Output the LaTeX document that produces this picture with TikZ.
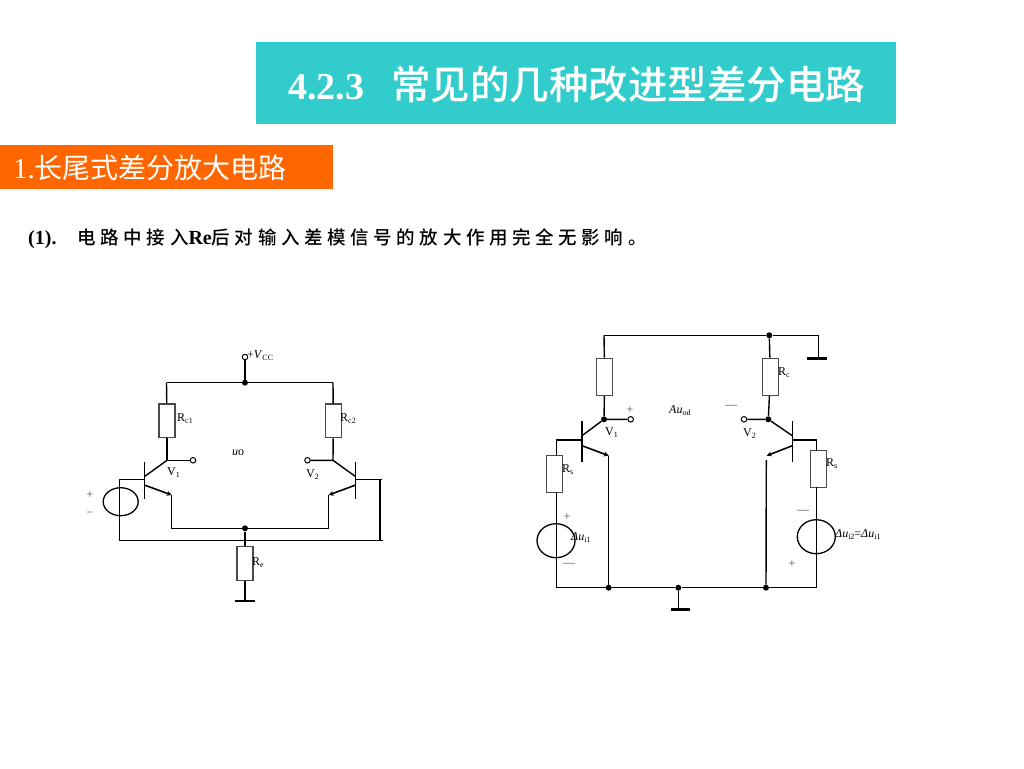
\documentclass[tikz,border=0pt]{standalone}
\usepackage{fontspec}
\usetikzlibrary{arrows.meta,shapes.geometric}
\setmainfont{Liberation Serif}
\newfontfamily\cjk{Noto Sans CJK SC}
\newfontfamily\cjkfat{Noto Sans CJK SC Medium}
\newfontfamily\cjksp[LetterSpace=25]{Noto Sans CJK SC Medium}
\definecolor{titlebg}{HTML}{33CCCC}
\definecolor{headbg}{HTML}{FF6600}
\definecolor{rimgray}{HTML}{4A4A4A}
\newcommand{\lowsub}[1]{\raisebox{-2pt}{\fontsize{8}{8}\selectfont #1}}
\tikzset{
  wire/.style={line width=1.4pt,black},
  bar/.style={line width=1.4pt,black},
  gnd/.style={line width=2.4pt,black},
  res/.style={draw=rimgray,line width=1.4pt,fill=white,inner sep=0pt,minimum width=16pt},
  src/.style={ellipse,draw=black,line width=1.3pt,inner sep=0pt},
  dot/.style={circle,fill=black,inner sep=0pt,minimum size=6pt},
  term/.style={circle,draw=black,line width=1pt,fill=white,inner sep=0pt,minimum size=5.5pt},
  lab/.style={anchor=west,inner sep=0pt,font=\fontsize{12}{12}\selectfont},
  sign/.style={inner sep=0pt,font=\fontsize{12}{12}\selectfont,text=rimgray},
  emit/.style={line width=1.6pt,black,-{Stealth[length=5pt,width=5pt]}}
}
\begin{document}
\begin{tikzpicture}[x=1pt,y=-1pt]
\useasboundingbox (0,0) rectangle (1024,768);
% banners
\fill[titlebg] (256,42) rectangle (896,124);
\fill[headbg] (0,145) rectangle (333,189);
\node[anchor=west,inner sep=0pt,text=white] (title) at (288,85)
  {\fontsize{38}{38}\selectfont\bfseries 4.2.3\hspace{27pt}\mdseries\cjkfat\fontsize{39.5}{40}\selectfont 常见的几种改进型差分电路};
\node[anchor=west,inner sep=0pt,text=white] (head) at (13,168)
  {\fontsize{29}{30}\selectfont 1.\cjk\fontsize{28}{30}\selectfont 长尾式差分放大电路};
\node[anchor=west,inner sep=0pt] (line) at (28,239)
  {\fontsize{20}{21}\selectfont\bfseries (1).\hspace{21pt}{\mdseries\cjksp\fontsize{18.5}{20}\selectfont 电路中接入}Re{\mdseries\cjksp\fontsize{18.5}{20}\selectfont 后对输入差模信号的放大作用完全无影响。}};

% ---------- left circuit ----------
\coordinate (tl) at (166.5,382.7);
\coordinate (tr) at (333,382.7);
\node[dot] (vccj) at (245,382.7) {};
\node[term] (vcc) at (245,357) {};
\draw[wire] (tl) -- (vccj) -- (tr);
\draw[wire] (vccj) -- (vcc);
\node[res,minimum height=33.7pt] (rc1) at (167,420.8) {};
\node[res,minimum height=33.7pt] (rc2) at (333.3,420.8) {};
\node[res,minimum height=33.7pt] (re) at (245,563.5) {};
\coordinate (c1) at (167,460.3);
\coordinate (c2) at (333,460.3);
\node[term] (o1) at (193,460.3) {};
\node[term] (o2) at (307.5,460.3) {};
\draw[wire] (tl) -- (rc1);
\draw[wire] (tr) -- (rc2);
\draw[wire] (rc1) -- (c1) -- (o1);
\draw[wire] (rc2) -- (c2) -- (o2);
% left transistor
\coordinate (b1a) at (144.3,461.7); \coordinate (b1b) at (144.3,499.3);
\coordinate (b1c) at (144.3,476.7); \coordinate (b1e) at (144.3,485);
\coordinate (b1) at (144.3,479.3);
\coordinate (e1) at (171.7,495);
\draw[bar] (b1a) -- (b1b);
\draw[wire] (b1c) -- (c1);
\draw[emit] (b1e) -- (e1);
% right transistor
\coordinate (b2a) at (355.7,461.7); \coordinate (b2b) at (355.7,499.3);
\coordinate (b2c) at (355.7,476.7); \coordinate (b2e) at (355.7,485);
\coordinate (b2) at (355.7,479.3);
\coordinate (e2) at (328.7,495);
\draw[bar] (b2a) -- (b2b);
\draw[wire] (b2c) -- (c2);
\draw[emit] (b2e) -- (e2);
% tail
\node[dot] (tail) at (245,528.3) {};
\coordinate (ecl) at (171.7,528.3);
\coordinate (ecr) at (328.7,528.3);
\draw[wire] (e1) -- (ecl) -- (tail) -- (ecr) -- (e2);
\coordinate (gl) at (245,600.7);
\draw[wire] (tail) -- (re);
\draw[wire] (re) -- (gl);
\coordinate (gla) at (235,600.7); \coordinate (glb) at (255,600.7);
\draw[gnd] (gla) -- (glb);
% base loop
\coordinate (bl) at (119.3,479.3);
\coordinate (bld) at (119.3,540.7);
\coordinate (brd) at (382.5,540.7);
\coordinate (brx) at (380,540.7);
\coordinate (bru) at (380,479.3);
\coordinate (brt) at (382,479.3);
\draw[wire] (b1) -- (bl) -- (bld) -- (brd);
\draw[wire] (b2) -- (brt);
\draw[wire] (bru) -- (brx);
\node[src,minimum width=35pt,minimum height=28pt] (s1) at (120.7,501.7) {};
% left labels
\node[lab] (lvcc) at (247,356) {+\textit{V}\lowsub{CC}};
\node[lab] (lrc1) at (177,419) {R\lowsub{c1}};
\node[lab] (lrc2) at (340,419) {R\lowsub{c2}};
\node[lab] (luo) at (232,453) {\textit{u}o};
\node[lab] (lv1) at (167,473) {V\lowsub{1}};
\node[lab] (lv2) at (306,475) {V\lowsub{2}};
\node[lab] (lre) at (252,563) {R\lowsub{e}};
\node[sign] (lp) at (90,495) {+};
\node[sign] (lm) at (90,514) {−};

% ---------- right circuit ----------
\coordinate (rtl) at (604,335.3);
\node[dot] (rtj) at (769.3,335.3) {};
\coordinate (rtr) at (818.5,335.3);
\coordinate (gr) at (818.5,358.3);
\coordinate (gra) at (807.3,358.3); \coordinate (grb) at (826.7,358.3);
\draw[wire] (rtl) -- (rtj) -- (rtr) -- (gr);
\draw[gnd] (gra) -- (grb);
\node[res,minimum height=37pt] (r1) at (604.7,376.8) {};
\node[res,minimum height=37pt] (r2) at (770.3,376.8) {};
\node[dot] (n1) at (604,419.3) {};
\node[dot] (n2) at (768.3,419.3) {};
\node[term] (t1) at (630.7,419.3) {};
\node[term] (t2) at (744,419.3) {};
\draw[wire] (rtl) -- (r1) -- (n1) -- (t1);
\draw[wire] (rtj) -- (r2) -- (n2) -- (t2);
% transistor 1
\coordinate (q1a) at (582,421); \coordinate (q1b) at (582,461.7);
\coordinate (q1c) at (582,435.7); \coordinate (q1e) at (582,445.7);
\coordinate (q1) at (582,440);
\coordinate (qe1) at (608.7,455.7);
\draw[bar] (q1a) -- (q1b);
\draw[wire] (q1c) -- (n1);
\draw[emit] (q1e) -- (qe1);
% transistor 2
\coordinate (q2a) at (792.3,421); \coordinate (q2b) at (792.3,461.7);
\coordinate (q2c) at (792.3,435.7); \coordinate (q2e) at (792.3,445.7);
\coordinate (q2) at (792.3,440);
\coordinate (qe2) at (766.7,455.7);
\coordinate (qw2) at (766.3,460);
\draw[bar] (q2a) -- (q2b);
\draw[wire] (q2c) -- (n2);
\draw[emit] (q2e) -- (qe2);
% source resistors
\node[res,minimum height=36.6pt] (rs1) at (554.7,474) {};
\node[res,minimum height=36.6pt] (rs2) at (818.3,469) {};
\coordinate (bb1) at (556.3,440);
\coordinate (bb2) at (816.7,440);
\coordinate (rb1) at (556.3,455.7);
\coordinate (rb2) at (816.7,450.7);
\coordinate (rc1b) at (556.3,492.3);
\coordinate (rc2b) at (816.7,487.3);
% bottom rail
\coordinate (bl1) at (556.3,587.7);
\coordinate (br1) at (816.7,587.7);
\node[dot] (j1) at (608.7,587.7) {};
\node[dot] (j2) at (678.3,587.7) {};
\node[dot] (j3) at (766,587.7) {};
\draw[wire] (bl1) -- (j1) -- (j2) -- (j3) -- (br1);
\draw[wire] (q1) -- (bb1) -- (rb1);
\draw[wire] (q2) -- (bb2) -- (rb2);
\draw[wire] (rc1b) -- (bl1);
\draw[wire] (rc2b) -- (br1);
\draw[wire] (qe1) -- (j1);
\draw[wire] (qw2) -- (j3);
\coordinate (gb) at (678.3,609.3);
\coordinate (gba) at (670.7,609.3); \coordinate (gbb) at (690,609.3);
\draw[wire] (j2) -- (gb);
\draw[gnd] (gba) -- (gbb);
\node[src,minimum width=38pt,minimum height=34pt] (s2) at (556,540.7) {};
\node[src,minimum width=38pt,minimum height=34pt] (s3) at (816.3,536.7) {};
% right labels
\node[sign] (rp) at (630,410.5) {+};
\node[lab] (rau) at (669,411) {\textit{Au}\lowsub{od}};
\node[sign] (rm) at (731,407) {—};
\node[lab] (rv1) at (605,433) {V\lowsub{1}};
\node[lab] (rv2) at (743,434) {V\lowsub{2}};
\node[lab] (rrc) at (778,373) {R\lowsub{c}};
\node[lab] (rs1l) at (562,470) {R\lowsub{s}};
\node[lab] (rs2l) at (826,464) {R\lowsub{s}};
\node[sign] (sp1) at (567,517) {+};
\node[sign] (sm1) at (569,565) {—};
\node[lab] (du1) at (571,538) {\textit{Δu}\lowsub{i1}};
\node[sign] (sm2) at (803,512) {—};
\node[sign] (sp2) at (792,564) {+};
\node[lab] (du2) at (835,535) {\textit{Δu}\lowsub{i2}=\textit{Δu}\lowsub{i1}};
\end{tikzpicture}
\end{document}
